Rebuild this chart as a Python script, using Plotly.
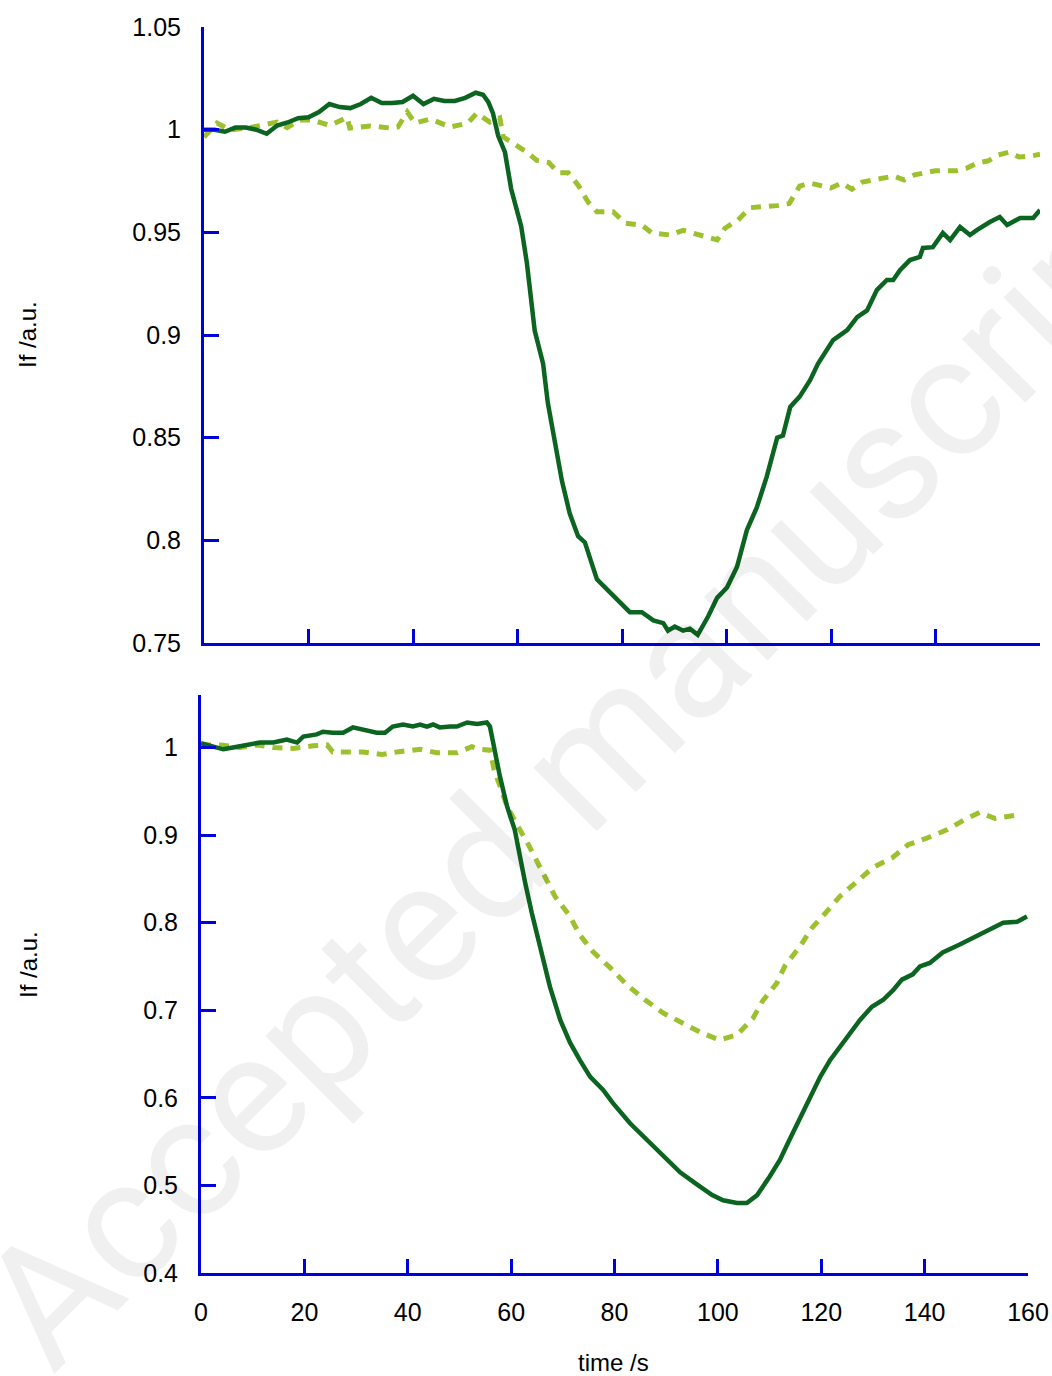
import plotly.graph_objects as go

# ---------------- data ----------------
# Top panel, solid dark-green series
top_solid_t = [0, 2, 4, 6, 8, 10, 12, 14, 16, 18, 20, 22, 24, 26, 28, 30, 32, 34, 36, 38,
               40, 42, 44, 46, 48, 50, 52, 53.4, 54.4, 55.3, 56.3, 57.6, 58.8, 60.7, 61.8,
               63.3, 64.9, 65.8, 68.5, 70, 71.6, 72.9, 75.2, 76.7, 78.7, 81.5, 83.8, 86,
               87.9, 88.8, 90.1, 91.7, 93, 94.5, 96.5, 98.2, 100.1, 102, 103.9, 105.8,
               107.7, 109.7, 110.8, 112.2, 114, 116, 117.5, 120.4, 123.1, 125, 126.9,
               128.8, 130.7, 131.9, 133.2, 135.1, 137, 137.6, 139.5, 141.4, 142.8, 144.7,
               146.6, 147.9, 150.4, 152.3, 153.7, 156.2, 158.7, 160]
top_solid_v = [1.000, 1.000, 0.999, 1.001, 1.001, 1.000, 0.998, 1.002, 1.0035, 1.0056,
               1.006, 1.0086, 1.0125, 1.011, 1.0105, 1.0125, 1.0155, 1.013, 1.013, 1.0135,
               1.0165, 1.0125, 1.015, 1.014, 1.014, 1.0155, 1.018, 1.017, 1.0135, 1.008,
               0.997, 0.989, 0.971, 0.953, 0.935, 0.902, 0.886, 0.867, 0.829, 0.813, 0.802,
               0.799, 0.781, 0.777, 0.772, 0.765, 0.765, 0.761, 0.7597, 0.756, 0.758,
               0.756, 0.757, 0.754, 0.763, 0.772, 0.777, 0.787, 0.805, 0.816, 0.831, 0.850,
               0.851, 0.865, 0.870, 0.878, 0.886, 0.8975, 0.9024, 0.9087, 0.912, 0.922,
               0.9268, 0.9268, 0.9316, 0.9365, 0.938, 0.9424, 0.9428, 0.9497, 0.9462,
               0.9526, 0.9487, 0.9511, 0.955, 0.9575, 0.9536, 0.957, 0.957, 0.9609]

# Top panel, dashed light-green series
top_dash_t = [0, 2.5, 5, 9.4, 14, 15.9, 18.4, 20.7, 24.1, 27.4, 27.9, 31.8, 35.6, 37.1,
              38.9, 40.4, 43.3, 47.1, 50.5, 52.2, 54.7, 56.6, 57.3, 61.8, 63.7, 66,
              67.8, 69.7, 71.6, 73.5, 75.2, 78.3, 80.6, 83.8, 85.7, 89.2, 91.7, 94.5,
              98.2, 99.7, 102.2, 104.5, 107.4, 109.7, 112, 114, 116, 118, 120, 122, 124,
              126, 128, 130, 132, 134, 136, 138, 140, 142, 144, 146, 148, 150, 152, 154,
              156, 158, 160]
top_dash_v = [0.9964, 1.0032, 0.9998, 1.0013, 1.0037, 1.001, 1.0047, 1.0047, 1.002, 1.006,
              1.0008, 1.0018, 1.0008, 1.0013, 1.0086, 1.0032, 1.0052, 1.0013, 1.0032,
              1.008, 1.0037, 1.0057, 0.9964, 0.989, 0.985, 0.984, 0.979, 0.979, 0.973,
              0.9648, 0.960, 0.960, 0.9545, 0.9535, 0.9497, 0.9487, 0.951, 0.9487, 0.9463,
              0.952, 0.956, 0.962, 0.9623, 0.963, 0.964, 0.9725, 0.974, 0.9725, 0.9716,
              0.974, 0.971, 0.9745, 0.9755, 0.977, 0.9774, 0.9755, 0.978, 0.979, 0.980,
              0.980, 0.980, 0.9813, 0.9838, 0.9847, 0.9877, 0.989, 0.9867, 0.987, 0.988]

# Bottom panel, solid dark-green series
bot_solid_t = [0, 4.3, 6.2, 11.4, 14, 16.6, 18.6, 19.8, 22.4, 23.6, 25.5, 27.5, 29.4, 31.3,
               34, 35.6, 37.1, 39.1, 41, 42.4, 43.7, 44.9, 46.2, 48.2, 49.5, 51.5, 53.4,
               55.3, 55.9, 57.8, 59.2, 60.7, 61.7, 62.7, 64, 65.6, 67.5, 69.5, 71.4, 73.3,
               75.3, 77.8, 79.7, 83, 86.3, 89.4, 92.7, 96, 98.9, 101, 103.7, 105.6, 107.6,
               110, 112, 113.6, 116, 118, 119.8, 121.7, 123.6, 125.6, 127.5, 129.8, 132,
               133.9, 135.6, 137.7, 139.1, 141, 143.5, 146.8, 149.4, 152.6, 155.2, 157.9,
               159.8]
bot_solid_v = [1.005, 0.998, 1.000, 1.0057, 1.0057, 1.009, 1.0057, 1.0126, 1.015, 1.018,
               1.017, 1.017, 1.023, 1.0206, 1.017, 1.017, 1.024, 1.0263, 1.024, 1.0263,
               1.024, 1.0263, 1.023, 1.024, 1.024, 1.0286, 1.027, 1.0286, 1.024, 0.968,
               0.933, 0.906, 0.875, 0.846, 0.811, 0.773, 0.727, 0.689, 0.663, 0.643, 0.624,
               0.609, 0.594, 0.571, 0.552, 0.533, 0.515, 0.501, 0.489, 0.483, 0.480, 0.480,
               0.489, 0.510, 0.529, 0.549, 0.578, 0.603, 0.624, 0.643, 0.658, 0.674, 0.689,
               0.704, 0.712, 0.723, 0.735, 0.741, 0.750, 0.754, 0.766, 0.775, 0.783, 0.792,
               0.800, 0.801, 0.807]

# Bottom panel, dashed light-green series
bot_dash_t = [0, 3.7, 7.5, 10.8, 14, 17.8, 21.7, 24.4, 25.5, 27.5, 31.3, 35, 37.9, 42.4,
              45.6, 49.5, 52.4, 54, 55.9, 56.7, 57.8, 59.2, 61.1, 63, 65, 66.9, 68.5, 71.4,
              73.3, 75.8, 79.1, 82.4, 85.9, 89.4, 93.2, 96.9, 100.4, 103.7, 106.8, 108.7,
              111.4, 113, 115.9, 118.2, 121.1, 123.6, 126.9, 130, 133.7, 136.8, 140.6,
              144.3, 147.8, 150.7, 153.6, 157.1, 158]
bot_dash_v = [1.003, 1.003, 1.000, 1.003, 1.000, 0.999, 1.002, 1.003, 0.995, 0.995, 0.995,
              0.992, 0.995, 0.998, 0.994, 0.994, 1.001, 0.998, 0.997, 0.975, 0.955, 0.933,
              0.912, 0.893, 0.870, 0.849, 0.830, 0.807, 0.786, 0.767, 0.749, 0.729, 0.712,
              0.697, 0.686, 0.674, 0.666, 0.672, 0.691, 0.711, 0.731, 0.751, 0.773, 0.794,
              0.813, 0.830, 0.847, 0.863, 0.874, 0.889, 0.897, 0.906, 0.918, 0.926, 0.919,
              0.923, 0.923]

x_ticks = [0, 20, 40, 60, 80, 100, 120, 140, 160]
x_ticklabels = ["0", "20", "40", "60", "80", "100", "120", "140", "160"]
top_y_ticks = [0.75, 0.8, 0.85, 0.9, 0.95, 1.0, 1.05]
top_y_ticklabels = ["0.75", "0.8", "0.85", "0.9", "0.95", "1", "1.05"]
bot_y_ticks = [0.4, 0.5, 0.6, 0.7, 0.8, 0.9, 1.0]
bot_y_ticklabels = ["0.4", "0.5", "0.6", "0.7", "0.8", "0.9", "1"]

# ---------------- styling ----------------
W, H = 1052, 1376
DARK = "#0b6420"
LIGHT = "#9dc02f"
AXIS = "#0000dd"
FONT = "Liberation Sans, Arial, sans-serif"


def px(x):
    return x / W


def py(y):
    return 1 - y / H


fig = go.Figure()
fig.add_trace(go.Scatter(x=top_dash_t, y=top_dash_v, mode="lines", xaxis="x", yaxis="y",
                         line=dict(color=LIGHT, width=5, dash="10px,8px"), showlegend=False))
fig.add_trace(go.Scatter(x=top_solid_t, y=top_solid_v, mode="lines", xaxis="x", yaxis="y",
                         line=dict(color=DARK, width=4.5), showlegend=False))
fig.add_trace(go.Scatter(x=bot_dash_t, y=bot_dash_v, mode="lines", xaxis="x2", yaxis="y2",
                         line=dict(color=LIGHT, width=5, dash="10px,8px"), showlegend=False))
fig.add_trace(go.Scatter(x=bot_solid_t, y=bot_solid_v, mode="lines", xaxis="x2", yaxis="y2",
                         line=dict(color=DARK, width=4.5), showlegend=False))

common_axis = dict(showgrid=False, zeroline=False, showline=True, linecolor=AXIS,
                   linewidth=3, ticks="inside", tickcolor=AXIS, tickwidth=3,
                   tickfont=dict(family=FONT, size=25, color="black"))

fig.update_layout(
    width=W, height=H,
    margin=dict(l=0, r=0, t=0, b=0, autoexpand=False),
    paper_bgcolor="white", plot_bgcolor="white",
    xaxis=dict(common_axis, domain=[px(204), px(1040)], range=[0, 160], anchor="y",
               tickvals=x_ticks, ticktext=x_ticklabels, showticklabels=False, ticklen=14),
    yaxis=dict(common_axis, domain=[py(643), py(27)], range=[0.75, 1.05], anchor="x",
               tickvals=top_y_ticks, ticktext=top_y_ticklabels, ticklen=15,
               ticklabelstandoff=15),
    xaxis2=dict(common_axis, domain=[px(201), px(1028)], range=[0, 160], anchor="y2",
                tickvals=x_ticks, ticktext=x_ticklabels, ticklen=14,
                ticklabelstandoff=15),
    yaxis2=dict(common_axis, domain=[py(1273), py(695)], range=[0.4, 1.06],
                anchor="x2", tickvals=bot_y_ticks, ticktext=bot_y_ticklabels, ticklen=15,
                ticklabelstandoff=15),
    annotations=[
        dict(text="Accepted manuscript", x=px(582), y=py(764), xref="paper",
             yref="paper", showarrow=False, textangle=-45, xanchor="center",
             yanchor="middle", font=dict(family="Roboto", size=170,
                                         color="rgba(0,0,0,0.06)")),
        dict(text="If /a.u.", x=px(28), y=py(335), xref="paper", yref="paper",
             showarrow=False, textangle=-90, xanchor="center", yanchor="middle",
             font=dict(family=FONT, size=24, color="black")),
        dict(text="If /a.u.", x=px(28), y=py(965), xref="paper", yref="paper",
             showarrow=False, textangle=-90, xanchor="center", yanchor="middle",
             font=dict(family=FONT, size=24, color="black")),
        dict(text="time /s", x=px(613), y=py(1362), xref="paper", yref="paper",
             showarrow=False, xanchor="center", yanchor="middle",
             font=dict(family=FONT, size=24, color="black")),
    ],
)

# remove the default page margin so the figure fills the window exactly
fig.write_html("out.html",
               config={"displayModeBar": False, "staticPlot": True},
               post_script="document.body.style.margin='0';"
                           "document.body.style.overflow='hidden';")
